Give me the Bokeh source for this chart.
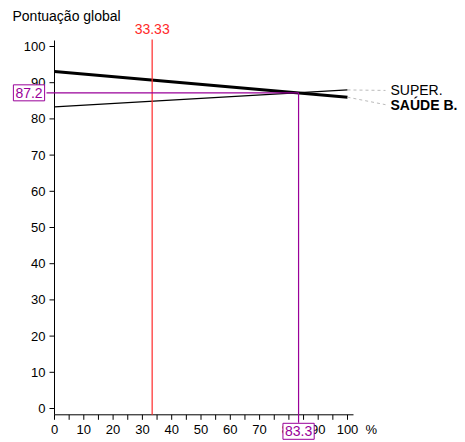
from bokeh.plotting import figure
from bokeh.models import Range1d, Label
from bokeh.core.properties import value
from bokeh.embed import file_html
from bokeh.resources import INLINE

# ---- data ----
x_pct = [0, 100]
saude_b = [93.1, 86.0]
super_ = [83.3, 88.0]
ref_x = 33.33
cross_x = 83.3
cross_y = 87.2
x_major = list(range(0, 101, 10))
x_minor = list(range(0, 101, 5))
y_major = list(range(0, 101, 10))
series_names = ["SUPER.", "SAÚDE B."]
title_text = "Pontuação global"
x_unit = "%"

# ---- styling / geometry (pixels) ----
W, H = 465, 442
X0_PX, Y0_PX = 54.0, 408.0      # pixel of data (0, 0)
PX_X, PX_Y = 2.93, 3.62          # pixels per data unit
FONT = "Liberation Sans"
PURPLE = "#990099"
RED = "#ff2a2a"

def dx(px):
    return px / PX_X

def dy(px):
    return px / PX_Y

x_lo, x_hi = -X0_PX / PX_X, (W - X0_PX) / PX_X
y_lo, y_hi = (Y0_PX - H) / PX_Y, Y0_PX / PX_Y

axis_y = -dy(6.3)     # x axis sits a little under 0
axis_top = 100 + dy(6)
axis_right = 100 + dx(6)

p = figure(width=W, height=H, output_backend="svg", toolbar_location=None,
           x_range=Range1d(x_lo, x_hi), y_range=Range1d(y_lo, y_hi),
           x_axis_location=None, y_axis_location=None, min_border=0)
p.outline_line_color = None
p.grid.visible = False
p.background_fill_color = "white"

# axes lines
p.segment(x0=[0, 0], y0=[axis_y, axis_y], x1=[0, axis_right], y1=[axis_top, axis_y],
          line_color="black", line_width=1)
# y ticks + labels
p.segment(x0=[0] * len(y_major), y0=y_major, x1=[-dx(5)] * len(y_major), y1=y_major,
          line_color="black", line_width=1)
p.text(x=[-dx(9)] * len(y_major), y=y_major, text=[str(v) for v in y_major],
       text_align="right", text_baseline="middle", text_font=value(FONT),
       text_font_size="13px", text_color="black")
# x ticks + labels
p.segment(x0=x_minor, y0=[axis_y] * len(x_minor), x1=x_minor,
          y1=[axis_y - dy(5)] * len(x_minor), line_color="black", line_width=1)
p.text(x=x_major, y=[axis_y - dy(15)] * len(x_major), text=[str(v) for v in x_major],
       text_align="center", text_baseline="middle", text_font=value(FONT),
       text_font_size="13px", text_color="black")
p.text(x=[axis_right + dx(12)], y=[axis_y - dy(15)], text=[x_unit],
       text_align="left", text_baseline="middle", text_font=value(FONT),
       text_font_size="13px", text_color="black")

# title
p.text(x=[-dx(42)], y=[100 + dy(31)], text=[title_text], text_align="left",
       text_baseline="middle", text_font=value(FONT), text_font_size="14px",
       text_color="black")

# series
p.line(x_pct, super_, line_color="black", line_width=1.3)
p.line(x_pct, saude_b, line_color="black", line_width=3)

# reference red line
p.segment(x0=[ref_x], y0=[axis_y], x1=[ref_x], y1=[axis_top + dy(1)],
          line_color=RED, line_width=1.2)
p.text(x=[ref_x], y=[100 + dy(18)], text=[f"{ref_x:.2f}"], text_align="center",
       text_baseline="middle", text_font=value(FONT), text_font_size="14px",
       text_color=RED)

# crossing guides
p.segment(x0=[-dx(8), cross_x], y0=[cross_y, cross_y], x1=[cross_x, cross_x],
          y1=[cross_y, axis_y - dy(8)], line_color=PURPLE, line_width=1.2)
p.add_layout(Label(x=-dx(25.5), y=cross_y, text=f"{cross_y:.1f}", text_align="center",
                   text_baseline="middle", text_font=FONT, text_font_size="14px",
                   text_color=PURPLE, border_line_color=PURPLE, border_line_width=1,
                   background_fill_color="white", padding=(2, 3)))
p.add_layout(Label(x=cross_x, y=axis_y - dy(16.5), text=f"{cross_x:.1f}",
                   text_align="center", text_baseline="middle", text_font=FONT,
                   text_font_size="14px", text_color=PURPLE, border_line_color=PURPLE,
                   border_line_width=1, background_fill_color="white", padding=(2, 3)))

# series name connectors and labels
lab_y = [super_[-1] - dy(0.5), saude_b[-1] - dy(7.5)]
p.segment(x0=[100, 100], y0=[super_[-1], saude_b[-1]], x1=[100 + dx(38)] * 2, y1=lab_y,
          line_color="#bbbbbb", line_dash="3 3", line_width=1)
p.text(x=[100 + dx(43)], y=[lab_y[0]], text=[series_names[0]], text_align="left",
       text_baseline="middle", text_font=value(FONT), text_font_size="14px",
       text_color="black")
p.text(x=[100 + dx(43)], y=[lab_y[1]], text=[series_names[1]], text_align="left",
       text_baseline="middle", text_font=value(FONT), text_font_size="14px",
       text_font_style="bold", text_color="black")

open("out.html", "w").write(file_html(p, INLINE))
